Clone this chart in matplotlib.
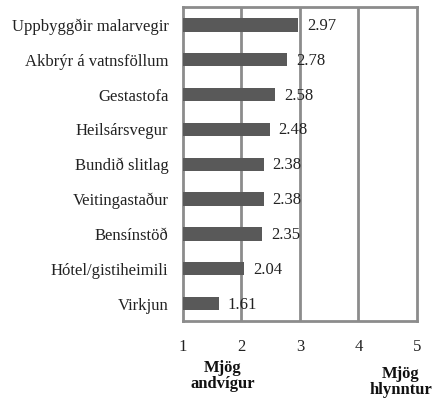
import matplotlib
matplotlib.use("Agg")
import matplotlib.pyplot as plt

categories = [
    "Uppbyggðir malarvegir",
    "Akbrýr á vatnsföllum",
    "Gestastofa",
    "Heilsársvegur",
    "Bundið slitlag",
    "Veitingastaður",
    "Bensínstöð",
    "Hótel/gistiheimili",
    "Virkjun",
]
values = [2.97, 2.78, 2.58, 2.48, 2.38, 2.38, 2.35, 2.04, 1.61]
xticks = [1, 2, 3, 4, 5]

plt.rcParams["font.family"] = ["Liberation Serif", "DejaVu Serif"]

GRID = "#8c8c8c"
BAR = "#595959"
FS = 12

fig = plt.figure(figsize=(4.33, 4.0), dpi=100)
ax = fig.add_axes([0.4226, 0.1975, 0.5404, 0.7838])

ypos = list(range(len(categories)))
ax.barh(ypos, [v - 1 for v in values], left=1, height=0.38, color=BAR, zorder=3)

for y, v in zip(ypos, values):
    ax.annotate(f"{v:.2f}", (v, y), textcoords="offset pixels", xytext=(9, -1),
                ha="left", va="center", fontsize=FS, color="#222222", zorder=4)

ax.set_xlim(1, 5)
ax.set_ylim(len(categories) - 0.5, -0.5)
ax.set_yticks(ypos)
ax.set_yticklabels(categories, fontsize=FS, color="#222222")
ax.set_xticks(xticks)
ax.set_xticklabels([str(t) for t in xticks], fontsize=FS, color="#222222")
ax.tick_params(axis="both", length=0)
ax.tick_params(axis="x", pad=13)
ax.tick_params(axis="y", pad=10.5)

for x in xticks[1:-1]:
    ax.axvline(x, color=GRID, linewidth=2, zorder=1)
for s in ax.spines.values():
    s.set_color(GRID)
    s.set_linewidth(2)

ax.text(1.68, -0.125, "Mjög\nandvígur", transform=ax.get_xaxis_transform(),
        ha="center", va="top", fontsize=FS, fontweight="bold",
        linespacing=1.0, color="#111111")
ax.text(4.72, -0.145, "Mjög\nhlynntur", transform=ax.get_xaxis_transform(),
        ha="center", va="top", fontsize=FS, fontweight="bold",
        linespacing=1.0, color="#111111")

fig.savefig("out.png", dpi=100)
